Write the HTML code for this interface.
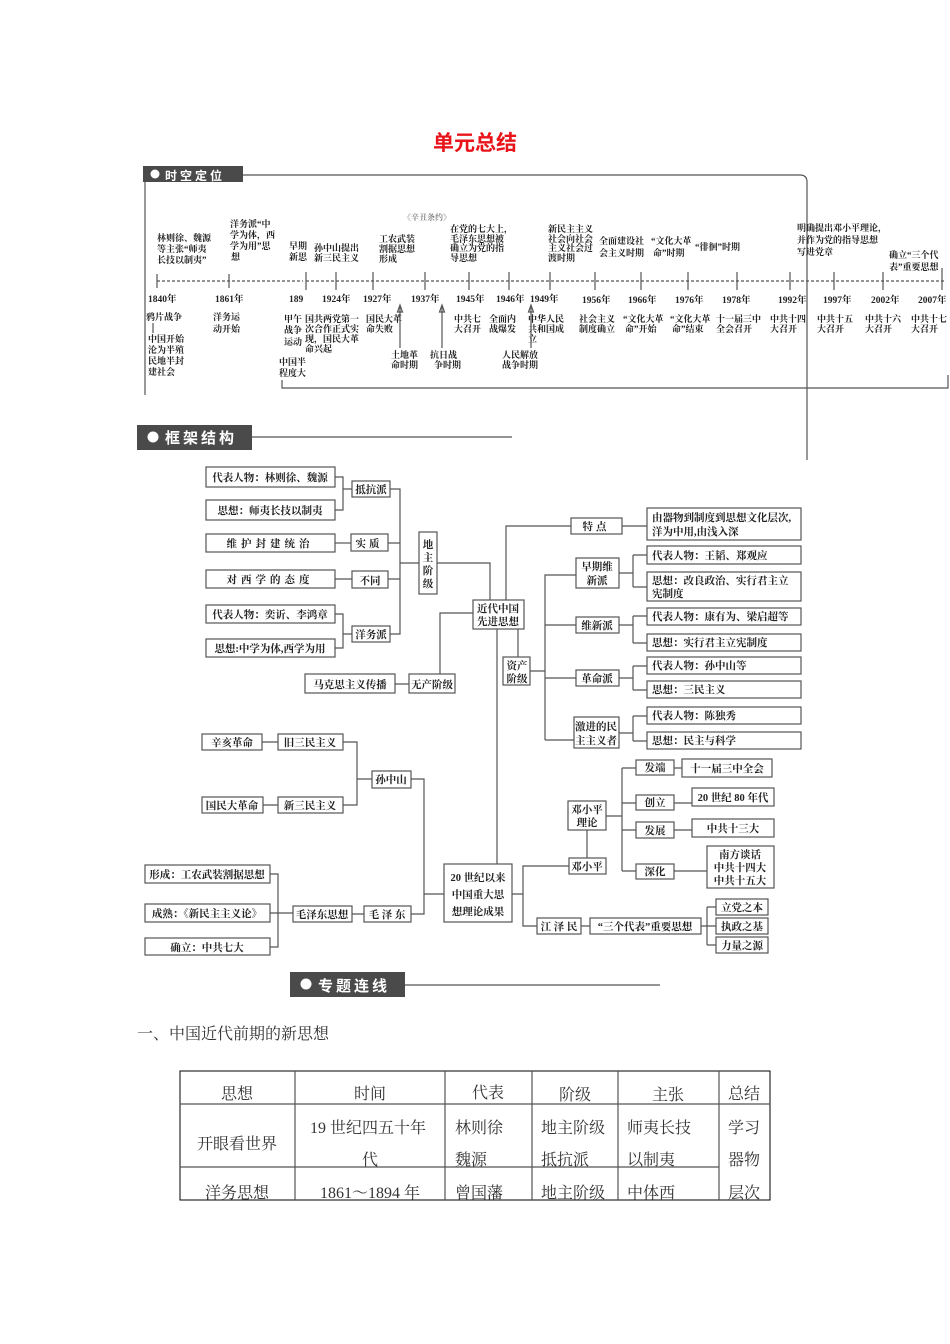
<!DOCTYPE html>
<html><head><meta charset="utf-8"><style>
html,body{margin:0;padding:0;background:#fff;}
svg{display:block;}
.t{font-family:"Liberation Serif","Noto Serif CJK SC",serif;font-size:9px;fill:#222;font-weight:bold;}
.b{font-family:"Liberation Serif","Noto Serif CJK SC",serif;font-size:10.5px;fill:#222;font-weight:bold;}
.y{font-family:"Liberation Serif","Noto Serif CJK SC",serif;font-size:9.5px;fill:#222;font-weight:bold;}
.n{font-family:"Liberation Serif","Noto Serif CJK SC",serif;font-size:16px;fill:#333;}
.hd{font-family:"Liberation Sans","Noto Sans CJK SC",sans-serif;font-size:14px;fill:#fff;font-weight:bold;letter-spacing:3px;}
rect.x{fill:#fff;stroke:#555;stroke-width:1.2;}
line,polyline,path{stroke:#555;stroke-width:1.2;fill:none;}
</style></head><body>
<svg width="950" height="1344" viewBox="0 0 950 1344" xmlns="http://www.w3.org/2000/svg">
<text x="475" y="150" text-anchor="middle" style="font-family:'Liberation Sans','Noto Sans CJK SC',sans-serif;font-size:21px;font-weight:bold;fill:#e8141a">单元总结</text>

<!-- 时空定位 -->
<rect x="143" y="166" width="100" height="16" fill="#4a4a4a"/>
<circle cx="155" cy="174" r="4.5" fill="#fff"/>
<text x="165" y="180" class="hd" style="font-size:12px">时空定位</text>
<path d="M243 175 H800 Q807 175 807 182 V460"/>
<line x1="145" y1="182" x2="145" y2="395"/>
<path d="M282 380 V388 H948 V375"/>

<!-- axis -->
<line x1="157" y1="281" x2="303" y2="281" stroke-dasharray="3,2"/>
<line x1="306" y1="281" x2="945" y2="281" stroke-dasharray="3,2"/>
<g>
<line x1="157" y1="274" x2="157" y2="288"/><line x1="229" y1="274" x2="229" y2="288"/>
<line x1="306" y1="272" x2="306" y2="290"/><line x1="336" y1="272" x2="336" y2="290"/>
<line x1="373" y1="272" x2="373" y2="290"/><line x1="425" y1="272" x2="425" y2="290"/>
<line x1="469" y1="272" x2="469" y2="290"/><line x1="509" y1="272" x2="509" y2="290"/>
<line x1="550" y1="272" x2="550" y2="290"/><line x1="595" y1="272" x2="595" y2="290"/>
<line x1="641" y1="272" x2="641" y2="290"/><line x1="688" y1="272" x2="688" y2="290"/>
<line x1="737" y1="272" x2="737" y2="290"/><line x1="790" y1="272" x2="790" y2="290"/>
<line x1="834" y1="272" x2="834" y2="290"/><line x1="883" y1="272" x2="883" y2="290"/>
<line x1="942" y1="268" x2="942" y2="290"/>
</g>
<g class="y">
<text x="148" y="302">1840年</text><text x="215" y="302">1861年</text><text x="289" y="302">189</text>
<text x="322" y="302">1924年</text><text x="363" y="302">1927年</text><text x="411" y="302">1937年</text>
<text x="456" y="302">1945年</text><text x="496" y="302">1946年</text><text x="530" y="302">1949年</text>
<text x="582" y="303">1956年</text><text x="628" y="303">1966年</text><text x="675" y="303">1976年</text>
<text x="722" y="303">1978年</text><text x="778" y="303">1992年</text><text x="823" y="303">1997年</text>
<text x="871" y="303">2002年</text><text x="918" y="303">2007年</text>
</g>
<g class="t">
<text x="157" y="241">林则徐、魏源</text><text x="157" y="252">等主张“师夷</text><text x="157" y="263">长技以制夷”</text>
<text x="230" y="227">洋务派“中</text><text x="230" y="238">学为体，西</text><text x="230" y="249">学为用”思</text><text x="231" y="260">想</text>
<text x="289" y="249">早期</text><text x="289" y="260">新思</text>
<text x="314" y="251">孙中山提出</text><text x="314" y="261">新三民主义</text>
<text x="403" y="220" fill="#888" font-size="8">《辛丑条约》</text>
<text x="379" y="242">工农武装</text><text x="379" y="252">割据思想</text><text x="379" y="262">形成</text>
<text x="450" y="232">在党的七大上，</text><text x="450" y="242">毛泽东思想被</text><text x="450" y="251">确立为党的指</text><text x="450" y="261">导思想</text>
<text x="548" y="232">新民主主义</text><text x="548" y="242">社会向社会</text><text x="548" y="251">主义社会过</text><text x="548" y="261">渡时期</text>
<text x="599" y="244">全面建设社</text><text x="599" y="256">会主义时期</text>
<text x="651" y="244">“文化大革</text><text x="653" y="256">命”时期</text>
<text x="695" y="250">“徘徊”时期</text>
<text x="797" y="231">明确提出邓小平理论，</text><text x="797" y="243">并作为党的指导思想</text><text x="797" y="255">写进党章</text>
<text x="889" y="258">确立“三个代</text><text x="889" y="270">表”重要思想</text>
<!-- lower -->
<text x="146" y="320">鸦片战争</text><line x1="153" y1="323" x2="153" y2="333"/>
<text x="148" y="342">中国开始</text><text x="148" y="353">沦为半殖</text><text x="148" y="364">民地半封</text><text x="148" y="375">建社会</text>
<text x="213" y="320">洋务运</text><text x="213" y="332">动开始</text>
<text x="284" y="322">甲午</text><text x="284" y="333">战争</text><text x="284" y="345">运动</text>
<text x="279" y="365">中国半</text><text x="279" y="376">程度大</text>
<text x="305" y="322">国共两党第一</text><text x="305" y="332">次合作正式实</text><text x="305" y="342">现，国民大革</text><text x="305" y="352">命兴起</text>
<text x="366" y="322">国民大革</text><text x="366" y="332">命失败</text>
<text x="391" y="358">土地革</text><text x="391" y="368">命时期</text>
<text x="430" y="358">抗日战</text><text x="434" y="368">争时期</text>
<text x="454" y="322">中共七</text><text x="454" y="332">大召开</text>
<text x="489" y="322">全面内</text><text x="489" y="332">战爆发</text>
<text x="528" y="322">中华人民</text><text x="528" y="332">共和国成</text><text x="528" y="342">立</text>
<text x="502" y="358">人民解放</text><text x="502" y="368">战争时期</text>
<text x="579" y="322">社会主义</text><text x="579" y="332">制度确立</text>
<text x="623" y="322">“文化大革</text><text x="625" y="332">命”开始</text>
<text x="670" y="322">“文化大革</text><text x="672" y="332">命”结束</text>
<text x="716" y="322">十一届三中</text><text x="716" y="332">全会召开</text>
<text x="770" y="322">中共十四</text><text x="770" y="332">大召开</text>
<text x="817" y="322">中共十五</text><text x="817" y="332">大召开</text>
<text x="865" y="322">中共十六</text><text x="865" y="332">大召开</text>
<text x="911" y="322">中共十七</text><text x="911" y="332">大召开</text>
</g>
<line x1="400" y1="306" x2="400" y2="348"/><path d="M397.5 312 L400 305 L402.5 312 Z" fill="#555"/>
<line x1="442" y1="306" x2="442" y2="348"/><path d="M439.5 312 L442 305 L444.5 312 Z" fill="#555"/>
<line x1="531" y1="306" x2="531" y2="348"/><path d="M528.5 312 L531 305 L533.5 312 Z" fill="#555"/>

<!-- 框架结构 -->
<rect x="137" y="425" width="115" height="25" fill="#4a4a4a"/>
<circle cx="153" cy="437" r="5.5" fill="#fff"/>
<text x="165" y="443" class="hd" style="font-size:15px">框架结构</text>
<line x1="252" y1="437" x2="512" y2="437"/>

<g class="b" text-anchor="middle">
<rect class="x" x="206" y="467" width="129" height="20"/><text x="270" y="481">代表人物：林则徐、魏源</text>
<rect class="x" x="206" y="500" width="129" height="20"/><text x="270" y="514">思想：师夷长技以制夷</text>
<rect class="x" x="352" y="481" width="38" height="16"/><text x="371" y="493">抵抗派</text>
<rect class="x" x="206" y="534" width="129" height="18"/><text x="270" y="547" letter-spacing="4">维护封建统治</text>
<rect class="x" x="351" y="534" width="37" height="17"/><text x="369" y="547" letter-spacing="3">实质</text>
<rect class="x" x="206" y="570" width="129" height="18"/><text x="270" y="583" letter-spacing="4">对西学的态度</text>
<rect class="x" x="352" y="571" width="36" height="17"/><text x="370" y="584">不同</text>
<rect class="x" x="206" y="605" width="129" height="18"/><text x="270" y="618">代表人物：奕䜣、李鸿章</text>
<rect class="x" x="206" y="639" width="129" height="18"/><text x="270" y="652">思想:中学为体,西学为用</text>
<rect class="x" x="352" y="626" width="38" height="16"/><text x="371" y="638">洋务派</text>
<rect class="x" x="419" y="532" width="18" height="62"/>
<text x="428" y="548">地</text><text x="428" y="561">主</text><text x="428" y="574">阶</text><text x="428" y="587">级</text>
<rect class="x" x="473" y="600" width="51" height="29"/><text x="498" y="612">近代中国</text><text x="498" y="625">先进思想</text>
<rect class="x" x="305" y="674" width="90" height="19"/><text x="350" y="688">马克思主义传播</text>
<rect class="x" x="409" y="674" width="46" height="19"/><text x="432" y="688">无产阶级</text>
<rect class="x" x="503" y="657" width="27" height="28"/><text x="517" y="669">资产</text><text x="517" y="682">阶级</text>
<rect class="x" x="571" y="518" width="51" height="16"/><text x="596" y="530" letter-spacing="3">特点</text>
<rect class="x" x="647" y="508" width="154" height="32"/>
<text x="652" y="521" text-anchor="start">由器物到制度到思想文化层次,</text><text x="652" y="535" text-anchor="start">洋为中用,由浅入深</text>
<rect class="x" x="576" y="558" width="43" height="30"/><text x="597" y="570">早期维</text><text x="597" y="584">新派</text>
<rect class="x" x="647" y="546" width="154" height="18"/><text x="652" y="559" text-anchor="start">代表人物：王韬、郑观应</text>
<rect class="x" x="647" y="572" width="154" height="29"/><text x="652" y="584" text-anchor="start">思想：改良政治、实行君主立</text><text x="652" y="597" text-anchor="start">宪制度</text>
<rect class="x" x="576" y="617" width="43" height="16"/><text x="597" y="629">维新派</text>
<rect class="x" x="647" y="608" width="154" height="17"/><text x="652" y="620" text-anchor="start">代表人物：康有为、梁启超等</text>
<rect class="x" x="647" y="634" width="154" height="17"/><text x="652" y="646" text-anchor="start">思想：实行君主立宪制度</text>
<rect class="x" x="576" y="670" width="43" height="16"/><text x="597" y="682">革命派</text>
<rect class="x" x="647" y="657" width="154" height="17"/><text x="652" y="669" text-anchor="start">代表人物：孙中山等</text>
<rect class="x" x="647" y="681" width="154" height="17"/><text x="652" y="693" text-anchor="start">思想：三民主义</text>
<rect class="x" x="574" y="717" width="45" height="31"/><text x="596" y="730">激进的民</text><text x="596" y="744">主主义者</text>
<rect class="x" x="647" y="707" width="154" height="17"/><text x="652" y="719" text-anchor="start">代表人物：陈独秀</text>
<rect class="x" x="647" y="732" width="154" height="17"/><text x="652" y="744" text-anchor="start">思想：民主与科学</text>

<rect class="x" x="202" y="734" width="60" height="16"/><text x="232" y="746">辛亥革命</text>
<rect class="x" x="278" y="734" width="65" height="16"/><text x="310" y="746">旧三民主义</text>
<rect class="x" x="372" y="771" width="39" height="17"/><text x="391" y="783">孙中山</text>
<rect class="x" x="202" y="797" width="61" height="16"/><text x="232" y="809">国民大革命</text>
<rect class="x" x="278" y="797" width="65" height="16"/><text x="310" y="809">新三民主义</text>
<rect class="x" x="145" y="865" width="125" height="18"/><text x="207" y="878">形成：工农武装割据思想</text>
<rect class="x" x="145" y="904" width="125" height="18"/><text x="207" y="917">成熟：《新民主主义论》</text>
<rect class="x" x="145" y="938" width="125" height="17"/><text x="207" y="951">确立：中共七大</text>
<rect class="x" x="293" y="906" width="59" height="16"/><text x="322" y="918">毛泽东思想</text>
<rect class="x" x="364" y="906" width="47" height="16"/><text x="387" y="918">毛 泽 东</text>
<rect class="x" x="444" y="864" width="68" height="58"/><text x="478" y="881">20 世纪以来</text><text x="478" y="898">中国重大思</text><text x="478" y="915">想理论成果</text>
<rect class="x" x="568" y="801" width="38" height="29"/><text x="587" y="813">邓小平</text><text x="587" y="826">理论</text>
<rect class="x" x="569" y="858" width="37" height="16"/><text x="587" y="870">邓小平</text>
<rect class="x" x="636" y="760" width="38" height="15"/><text x="655" y="771">发端</text>
<rect class="x" x="636" y="795" width="38" height="15"/><text x="655" y="806">创立</text>
<rect class="x" x="636" y="822" width="38" height="16"/><text x="655" y="834">发展</text>
<rect class="x" x="636" y="864" width="38" height="15"/><text x="655" y="875">深化</text>
<rect class="x" x="682" y="759" width="90" height="18"/><text x="727" y="772">十一届三中全会</text>
<rect class="x" x="692" y="788" width="82" height="18"/><text x="733" y="801">20 世纪 80 年代</text>
<rect class="x" x="692" y="819" width="82" height="18"/><text x="733" y="832">中共十三大</text>
<rect class="x" x="707" y="846" width="67" height="42"/><text x="740" y="858">南方谈话</text><text x="740" y="871">中共十四大</text><text x="740" y="884">中共十五大</text>
<rect class="x" x="537" y="918" width="44" height="16"/><text x="559" y="930">江 泽 民</text>
<rect class="x" x="590" y="918" width="111" height="16"/><text x="645" y="930">“三个代表”重要思想</text>
<rect class="x" x="716" y="899" width="52" height="16"/><text x="742" y="911">立党之本</text>
<rect class="x" x="716" y="918" width="52" height="16"/><text x="742" y="930">执政之基</text>
<rect class="x" x="716" y="937" width="52" height="16"/><text x="742" y="949">力量之源</text>
</g>

<!-- connectors -->
<path d="M335 477 H343 V510 H335 M343 489 H352"/>
<path d="M335 614 H343 V648 H335 M343 634 H352"/>
<line x1="335" y1="543" x2="351" y2="543"/><line x1="335" y1="579" x2="352" y2="579"/>
<path d="M390 489 H400 V634 H390 M388 543 H400 M388 579 H400 M400 563 H419"/>
<path d="M437 563 H490 V600"/>
<path d="M506 600 V526 H571 M622 526 H647"/>
<path d="M473 613 H440 V674 M395 684 H409"/>
<path d="M518 629 V657 M497 629 V864"/>
<path d="M530 671 H545 V575 H576 M545 625 H576 M545 678 H576 M545 740 H574 M545 671 V740"/>
<path d="M619 573 H633 M633 555 V587 M633 555 H647 M633 587 H647"/>
<path d="M619 625 H633 M633 616 V643 M633 616 H647 M633 643 H647"/>
<path d="M619 678 H633 M633 666 V690 M633 666 H647 M633 690 H647"/>
<path d="M619 733 H633 M633 716 V741 M633 716 H647 M633 741 H647"/>
<path d="M262 742 H278 M263 805 H278 M343 742 H357 V805 H343 M357 779 H372"/>
<path d="M411 779 H424 V914 H411 M424 894 H444"/>
<path d="M270 874 H278 V947 H270 M270 913 H293 M352 914 H364"/>
<path d="M512 894 H523 V866 H569 M523 894 V926 H537 M581 926 H590"/>
<path d="M587 830 V858 M606 816 H622 M622 768 V871 M622 768 H636 M622 803 H636 M622 830 H636 M622 871 H636"/>
<path d="M674 768 H682 M674 803 H692 M674 830 H692 M674 871 H707"/>
<path d="M701 926 H707 M707 907 V945 M707 907 H716 M707 926 H716 M707 945 H716"/>

<!-- 专题连线 -->
<rect x="290" y="972" width="115" height="25" fill="#4a4a4a"/>
<circle cx="306" cy="984" r="5.5" fill="#fff"/>
<text x="318" y="991" class="hd" style="font-size:15px">专题连线</text>
<line x1="405" y1="985" x2="660" y2="985"/>

<text x="137" y="1039" class="n">一、中国近代前期的新思想</text>

<g stroke="#000" stroke-width="1">
<rect x="180" y="1071" width="590" height="129" fill="none" stroke="#000"/>
<line x1="180" y1="1104" x2="770" y2="1104" stroke="#000"/>
<line x1="180" y1="1167" x2="719" y2="1167" stroke="#000"/>
<line x1="295" y1="1071" x2="295" y2="1200" stroke="#000"/>
<line x1="445" y1="1071" x2="445" y2="1200" stroke="#000"/>
<line x1="532" y1="1071" x2="532" y2="1200" stroke="#000"/>
<line x1="618" y1="1071" x2="618" y2="1200" stroke="#000"/>
<line x1="719" y1="1071" x2="719" y2="1200" stroke="#000"/>
</g>
<g class="n">
<text x="237" y="1099" text-anchor="middle">思想</text>
<text x="370" y="1099" text-anchor="middle">时间</text>
<text x="488" y="1098" text-anchor="middle">代表</text>
<text x="575" y="1100" text-anchor="middle">阶级</text>
<text x="668" y="1100" text-anchor="middle">主张</text>
<text x="744" y="1099" text-anchor="middle">总结</text>
<text x="237" y="1149" text-anchor="middle">开眼看世界</text>
<text x="310" y="1133">19 世纪四五十年</text><text x="362" y="1165">代</text>
<text x="455" y="1133">林则徐</text><text x="455" y="1165">魏源</text>
<text x="541" y="1133">地主阶级</text><text x="541" y="1165">抵抗派</text>
<text x="627" y="1133">师夷长技</text><text x="627" y="1165">以制夷</text>
<text x="728" y="1133">学习</text><text x="728" y="1165">器物</text><text x="728" y="1198">层次</text>
<text x="237" y="1198" text-anchor="middle">洋务思想</text>
<text x="370" y="1198" text-anchor="middle">1861～1894 年</text>
<text x="455" y="1198">曾国藩</text>
<text x="541" y="1198">地主阶级</text>
<text x="627" y="1198">中体西</text>
</g>
</svg>
</body></html>
